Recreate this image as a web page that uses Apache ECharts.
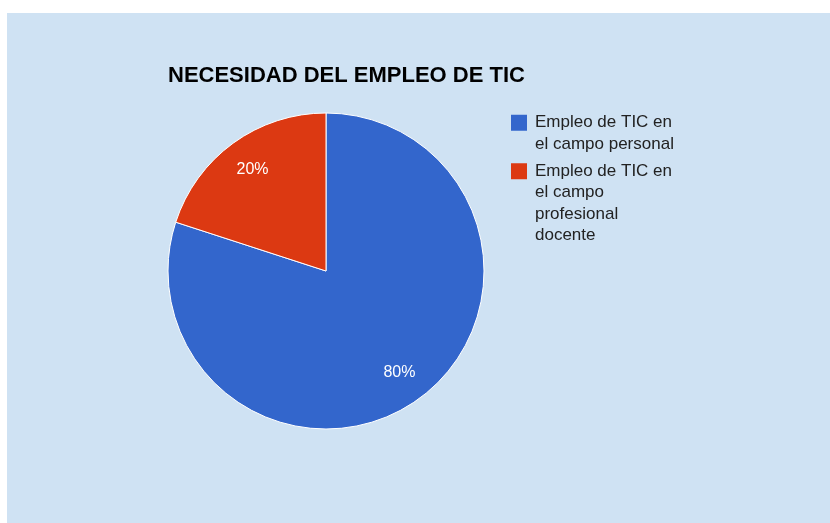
<!DOCTYPE html>
<html><head><meta charset="utf-8">
<script src="https://cdn.jsdelivr.net/npm/echarts@6/dist/echarts.min.js"></script>
<style>
html,body{margin:0;padding:0;background:#fff;}
#c{position:absolute;left:7px;top:13px;width:823px;height:510px;}
</style></head>
<body><div id="c"></div>
<script>
const titleText = 'NECESIDAD DEL EMPLEO DE TIC';
const categories = ['Empleo de TIC en el campo personal', 'Empleo de TIC en el campo profesional docente'];
const legendLines = [['Empleo de TIC en', 'el campo personal'], ['Empleo de TIC en', 'el campo', 'profesional', 'docente']];
const values = [80, 20];
const colors = ['#3366cc', '#dc3912'];

const data = categories.map((n, i) => ({ name: n, value: values[i] }));
const font = 'Arial, "Liberation Sans", sans-serif';
const LH = 21.5;
function legendFor(i, top) {
  const rich = {
    sq: { width: 16, height: 16, backgroundColor: colors[i], lineHeight: LH },
    g: { width: 8, lineHeight: LH },
    sp: { width: 24, lineHeight: LH },
    t: { fontFamily: font, fontSize: 17, color: '#222', lineHeight: LH }
  };
  return {
    data: [categories[i]], left: 498, top: top, orient: 'vertical', padding: 0,
    icon: 'rect', itemWidth: 0, itemHeight: 16, itemGap: 0,
    itemStyle: { opacity: 0 },
    formatter: () => legendLines[i].map((l, k) => (k === 0 ? '{sq|}{g|}' : '{sp|}') + '{t|' + l + '}').join('\n'),
    textStyle: { fontFamily: font, fontSize: 17, color: '#222', lineHeight: LH, rich: rich }
  };
}
const chart = echarts.init(document.getElementById('c'));
chart.setOption({
  backgroundColor: '#cfe2f3',
  color: colors,
  animation: false,
  title: { text: titleText, left: 156, top: 47, textStyle: { fontFamily: font, fontSize: 22, fontWeight: 'bold', color: '#000' } },
  legend: [legendFor(0, 99), legendFor(1, 147.5)],
  series: [
    { type: 'pie', center: [319, 258], radius: [0, 158], startAngle: 90, clockwise: true,
      data: data, label: { show: false }, labelLine: { show: false },
      itemStyle: { borderColor: '#fff', borderWidth: 1 }, emphasis: { disabled: true } },
    { type: 'pie', center: [319, 258], radius: [0, 244], startAngle: 90, clockwise: true, silent: true,
      data: data, itemStyle: { color: 'rgba(0,0,0,0)' }, labelLine: { show: false },
      label: { show: true, position: 'inside', formatter: p => Math.round(p.percent) + '%',
        fontFamily: font, fontSize: 16, color: '#fff' }, emphasis: { disabled: true } }
  ]
});
</script></body></html>
